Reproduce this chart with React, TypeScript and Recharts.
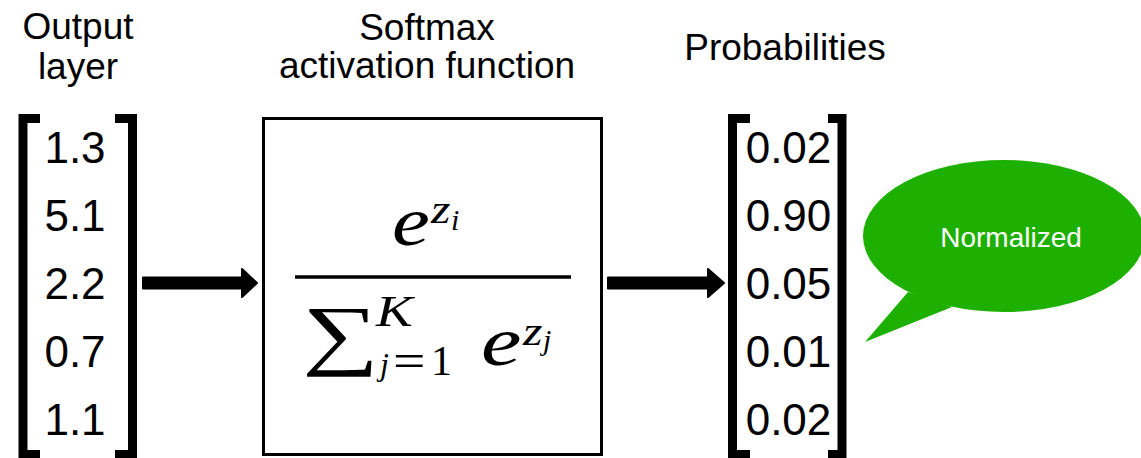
import { ScatterChart, Scatter, XAxis, YAxis } from 'recharts'

// softmax example: raw scores in, probabilities out
const outputLayer = [1.3, 5.1, 2.2, 0.7, 1.1]
const probabilities = [0.02, 0.9, 0.05, 0.01, 0.02]
const rowIndex = [0, 1, 2, 3, 4]

const titleOutput = ['Output', 'layer']
const titleSoftmax = ['Softmax', 'activation function']
const titleProbs = 'Probabilities'
const bubbleText = 'Normalized'

const inputPoints = rowIndex.map((r) => ({ col: 0, row: r, label: outputLayer[r].toFixed(1) }))
const probPoints = rowIndex.map((r) => ({ col: 1, row: r, label: probabilities[r].toFixed(2) }))

const SANS = "'Liberation Sans', Arial, sans-serif"
const SERIF = "'Liberation Serif', 'Times New Roman', serif"
const GREEN = '#1eb000'

const W = 1141
const H = 458

const NumberLabel = (props: any) => {
  const { cx, cy, payload } = props
  return (
    <text x={cx} y={cy + 16} textAnchor="middle" fontFamily={SANS} fontSize={44} fill="#000">
      {payload.label}
    </text>
  )
}

function Arrow({ x0, base, tip, y }: { x0: number; base: number; tip: number; y: number }) {
  const t = 5.5
  const h = 14
  const pts = [
    [x0, y - t], [base, y - t], [base, y - h], [tip, y], [base, y + h], [base, y + t], [x0, y + t],
  ].map((p) => p.join(',')).join(' ')
  return <polygon points={pts} fill="#000" stroke="#000" strokeWidth={2} strokeLinejoin="round" />
}

function Bracket({ bar, end, top, bottom }: { bar: number; end: number; top: number; bottom: number }) {
  return (
    <path
      d={`M${end},${top} H${bar} V${bottom} H${end}`}
      fill="none"
      stroke="#000"
      strokeWidth={9}
      strokeLinejoin="miter"
    />
  )
}

// one glyph of the formula, stretched a bit since we have no Computer Modern here
function M({ x, y, size, sx = 1, italic = false, children }: any) {
  return (
    <text
      transform={`translate(${x},${y}) scale(${sx},1)`}
      fontFamily={SERIF}
      fontSize={size}
      fontStyle={italic ? 'italic' : 'normal'}
      fill="#000"
    >
      {children}
    </text>
  )
}

export default function App() {
  return (
    <div style={{ position: 'fixed', left: 0, top: 0, width: W, height: H, background: '#fff' }}>
      <ScatterChart width={W} height={H} margin={{ top: 0, right: 0, bottom: 0, left: 0 }}>
        <XAxis type="number" dataKey="col" domain={[-0.10512, 1.49404]} allowDataOverflow hide />
        <YAxis type="number" dataKey="row" domain={[-2.1731, 4.5746]} reversed allowDataOverflow hide />

        {/* titles */}
        <g fontFamily={SANS} fontSize={37} fill="#000" textAnchor="middle">
          <text x={78} y={39}>{titleOutput[0]}</text>
          <text x={78} y={79}>{titleOutput[1]}</text>
          <text x={427} y={40}>{titleSoftmax[0]}</text>
          <text x={427} y={78}>{titleSoftmax[1]}</text>
          <text x={785} y={60}>{titleProbs}</text>
        </g>

        {/* matrix brackets */}
        <Bracket bar={23} end={40} top={118.5} bottom={454.5} />
        <Bracket bar={132.5} end={115} top={118.5} bottom={454.5} />
        <Bracket bar={732.5} end={750} top={118.5} bottom={454.5} />
        <Bracket bar={842} end={828} top={118.5} bottom={454.5} />

        {/* arrows */}
        <Arrow x0={143} base={242} tip={257} y={283} />
        <Arrow x0={608} base={708} tip={724} y={283} />

        {/* softmax box */}
        <rect x={263.5} y={118.5} width={338} height={336} fill="none" stroke="#000" strokeWidth={3} />
        <line x1={295} x2={571} y1={277} y2={277} stroke="#000" strokeWidth={3.5} />

        <M x={392} y={245} size={70} sx={1.22} italic>e</M>
        <M x={431} y={223} size={40} sx={1.25} italic>z</M>
        <M x={451} y={230} size={30} italic>i</M>

        <M x={302} y={360} size={78} sx={1.38}>∑</M>
        <M x={376} y={326} size={44} sx={1.25} italic>K</M>
        <M x={380} y={375} size={32} italic>j</M>
        <M x={393} y={377} size={48} sx={1.2}>=</M>
        <M x={431} y={375} size={42}>1</M>
        <M x={481} y={365} size={70} sx={1.3} italic>e</M>
        <M x={523} y={345} size={40} sx={1.25} italic>z</M>
        <M x={543} y={350} size={30} italic>j</M>

        {/* speech bubble */}
        <ellipse cx={1004} cy={236} rx={141} ry={76} fill={GREEN} />
        <polygon points="908,292 865,342 952,307" fill={GREEN} />
        <text x={1011} y={247} textAnchor="middle" fontFamily={SANS} fontSize={28} fill="#fff">
          {bubbleText}
        </text>

        <Scatter data={inputPoints} shape={NumberLabel} isAnimationActive={false} />
        <Scatter data={probPoints} shape={NumberLabel} isAnimationActive={false} />
      </ScatterChart>
    </div>
  )
}
